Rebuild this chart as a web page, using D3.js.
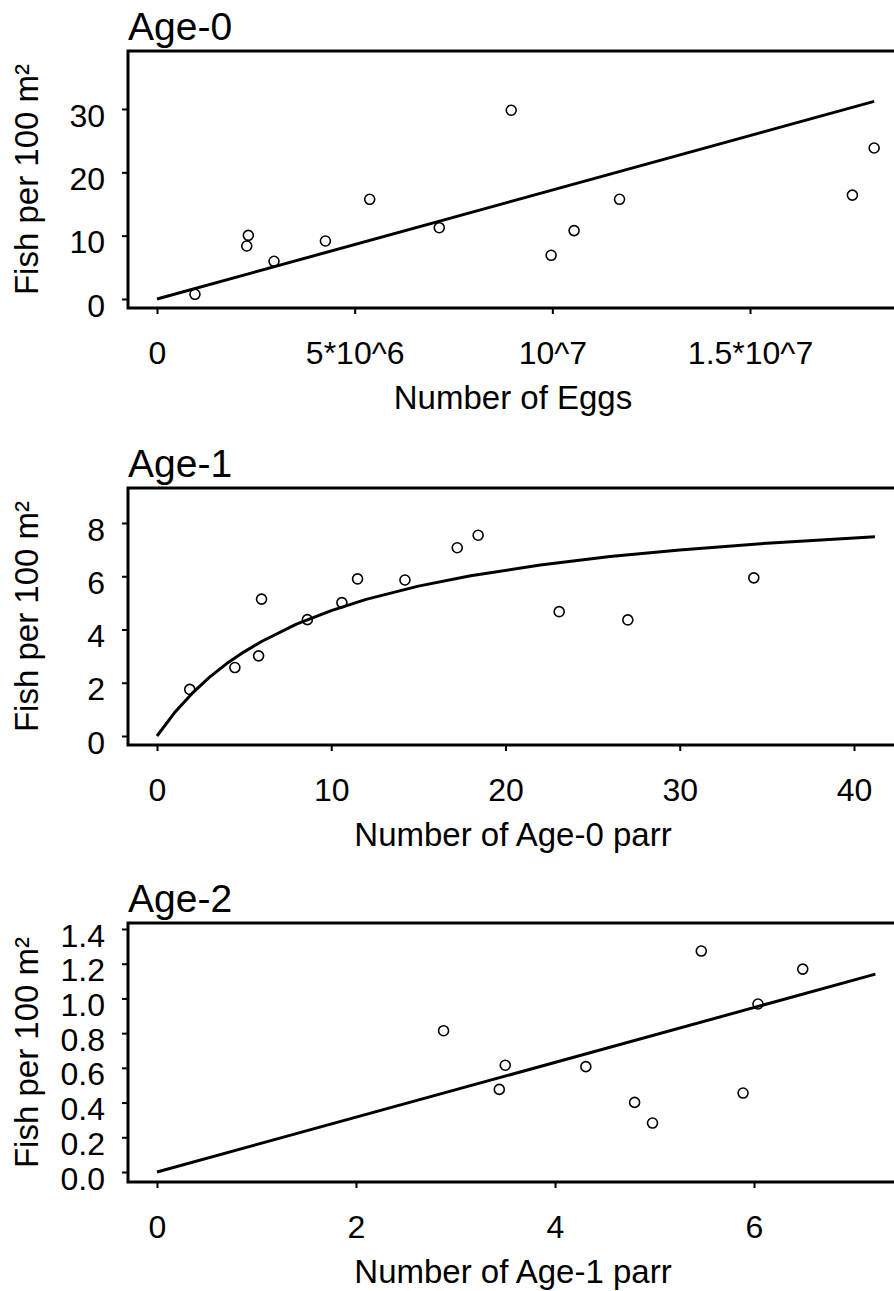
<!DOCTYPE html>
<html>
<head>
<meta charset="utf-8">
<script src="https://cdn.jsdelivr.net/npm/d3@7"></script>
<style>
  html, body { margin: 0; padding: 0; background: #fff; }
  svg text { font-family: "Liberation Sans", Arial, Helvetica, sans-serif; fill: #000; }
</style>
</head>
<body>
<svg id="chart" width="894" height="1291"></svg>
<script>
// Age-0 : fish vs number of eggs
const eggs = [0.96e6, 2.27e6, 2.31e6, 2.96e6, 4.26e6, 5.38e6, 7.14e6, 8.96e6, 9.97e6, 10.55e6, 11.7e6, 17.59e6, 18.14e6];
const age0Density = [0.74, 8.37, 10.05, 5.95, 9.16, 15.74, 11.26, 29.8, 6.9, 10.8, 15.74, 16.4, 23.84];
const age0FitX = [0, 18.14e6];
const age0FitY = [0, 31.2];
const age0XTicks = [0, 5e6, 1e7, 1.5e7];
const age0XLabels = ['0', '5*10^6', '10^7', '1.5*10^7'];
const age0YTicks = [0, 10, 20, 30];

// Age-1 : fish vs number of age-0 parr
const age0Parr = [1.88, 4.47, 5.83, 6.0, 8.63, 10.61, 11.51, 14.23, 17.23, 18.43, 23.08, 27.02, 34.25];
const age1Density = [1.75, 2.57, 3.01, 5.14, 4.37, 5.01, 5.9, 5.86, 7.07, 7.54, 4.67, 4.36, 5.94];
const age1FitX = [0, 1, 2, 3, 4, 5, 6, 8, 10, 12, 15, 18, 22, 26, 30, 35, 41.2];
const age1FitY = [0, 0.87, 1.59, 2.2, 2.72, 3.16, 3.55, 4.2, 4.71, 5.13, 5.63, 6.02, 6.42, 6.74, 6.99, 7.24, 7.48];
const age1XTicks = [0, 10, 20, 30, 40];
const age1YTicks = [0, 2, 4, 6, 8];

// Age-2 : fish vs number of age-1 parr
const age1Parr = [2.88, 3.50, 3.44, 4.31, 4.80, 4.98, 5.47, 6.04, 5.89, 6.49];
const age2Density = [0.814, 0.615, 0.476, 0.607, 0.401, 0.282, 1.273, 0.968, 0.455, 1.169];
const age2FitX = [0, 7.22];
const age2FitY = [0, 1.14];
const age2XTicks = [0, 2, 4, 6];
const age2YTicks = [0, 0.2, 0.4, 0.6, 0.8, 1.0, 1.2, 1.4];

const yTitle = 'Fish per 100 m\u00B2';

const panels = [
  { title: 'Age-0', xTitle: 'Number of Eggs', x: eggs, y: age0Density, fitX: age0FitX, fitY: age0FitY,
    xTicks: age0XTicks, xFmt: (d, i) => age0XLabels[i], yTicks: age0YTicks, yFmt: d3.format('d'),
    top: 51, bottom: 308, xRef: 1.5e7, xRefPx: 750, yRef: 30, yRefPx: 109, yZeroPx: 299 },
  { title: 'Age-1', xTitle: 'Number of Age-0 parr', x: age0Parr, y: age1Density, fitX: age1FitX, fitY: age1FitY,
    xTicks: age1XTicks, xFmt: d3.format('d'), yTicks: age1YTicks, yFmt: d3.format('d'),
    top: 488, bottom: 745, xRef: 40, xRefPx: 854, yRef: 8, yRefPx: 523, yZeroPx: 736 },
  { title: 'Age-2', xTitle: 'Number of Age-1 parr', x: age1Parr, y: age2Density, fitX: age2FitX, fitY: age2FitY,
    xTicks: age2XTicks, xFmt: d3.format('d'), yTicks: age2YTicks, yFmt: d3.format('.1f'),
    top: 923, bottom: 1182, xRef: 6, xRefPx: 754, yRef: 1.4, yRefPx: 929, yZeroPx: 1172 }
];

const left = 128, right = 898, xZeroPx = 157;
const svg = d3.select('#chart');

panels.forEach(p => {
  const x = d3.scaleLinear().domain([0, p.xRef]).range([xZeroPx, p.xRefPx]);
  const y = d3.scaleLinear().domain([0, p.yRef]).range([p.yZeroPx, p.yRefPx]);
  const g = svg.append('g');

  // y axis ticks + labels (labels sit a little below their tick, as in the original)
  const yAxis = g.append('g')
    .attr('transform', `translate(${left},0)`)
    .call(d3.axisLeft(y).tickValues(p.yTicks).tickFormat(p.yFmt).tickSize(6).tickSizeOuter(0).tickPadding(17));
  yAxis.select('.domain').remove();
  yAxis.selectAll('line').attr('stroke', '#000').attr('stroke-width', 2);
  yAxis.selectAll('text').attr('font-size', 32).attr('dy', null).attr('y', 17).attr('font-family', null);

  // x axis ticks + labels
  const xAxis = g.append('g')
    .attr('transform', `translate(0,${p.bottom})`)
    .call(d3.axisBottom(x).tickValues(p.xTicks).tickFormat(p.xFmt).tickSize(6).tickSizeOuter(0).tickPadding(0));
  xAxis.select('.domain').remove();
  xAxis.selectAll('line').attr('stroke', '#000').attr('stroke-width', 2);
  xAxis.selectAll('text').attr('font-size', 32).attr('dy', null).attr('y', 56).attr('font-family', null);

  // frame
  g.append('rect')
    .attr('x', left).attr('y', p.top)
    .attr('width', right - left).attr('height', p.bottom - p.top)
    .attr('fill', 'none').attr('stroke', '#000').attr('stroke-width', 3);

  // fitted line
  const fit = p.fitX.map((v, i) => [v, p.fitY[i]]);
  g.append('path')
    .datum(fit)
    .attr('d', d3.line().x(d => x(d[0])).y(d => y(d[1])))
    .attr('fill', 'none').attr('stroke', '#000').attr('stroke-width', 3)
    .attr('stroke-linejoin', 'round');

  // observations
  g.selectAll('circle.obs')
    .data(p.x.map((v, i) => [v, p.y[i]]))
    .join('circle')
    .attr('class', 'obs')
    .attr('cx', d => x(d[0])).attr('cy', d => y(d[1]))
    .attr('r', 5)
    .attr('fill', 'none').attr('stroke', '#000').attr('stroke-width', 1.6);

  // titles
  g.append('text')
    .attr('x', left).attr('y', p.top - 11)
    .attr('font-size', 39)
    .text(p.title);

  g.append('text')
    .attr('x', (left + right) / 2).attr('y', p.bottom + 101)
    .attr('text-anchor', 'middle')
    .attr('font-size', 33)
    .text(p.xTitle);

  g.append('text')
    .attr('transform', `translate(38,${(p.top + p.bottom) / 2}) rotate(-90)`)
    .attr('text-anchor', 'middle')
    .attr('font-size', 33)
    .text(yTitle);
});
</script>
</body>
</html>
